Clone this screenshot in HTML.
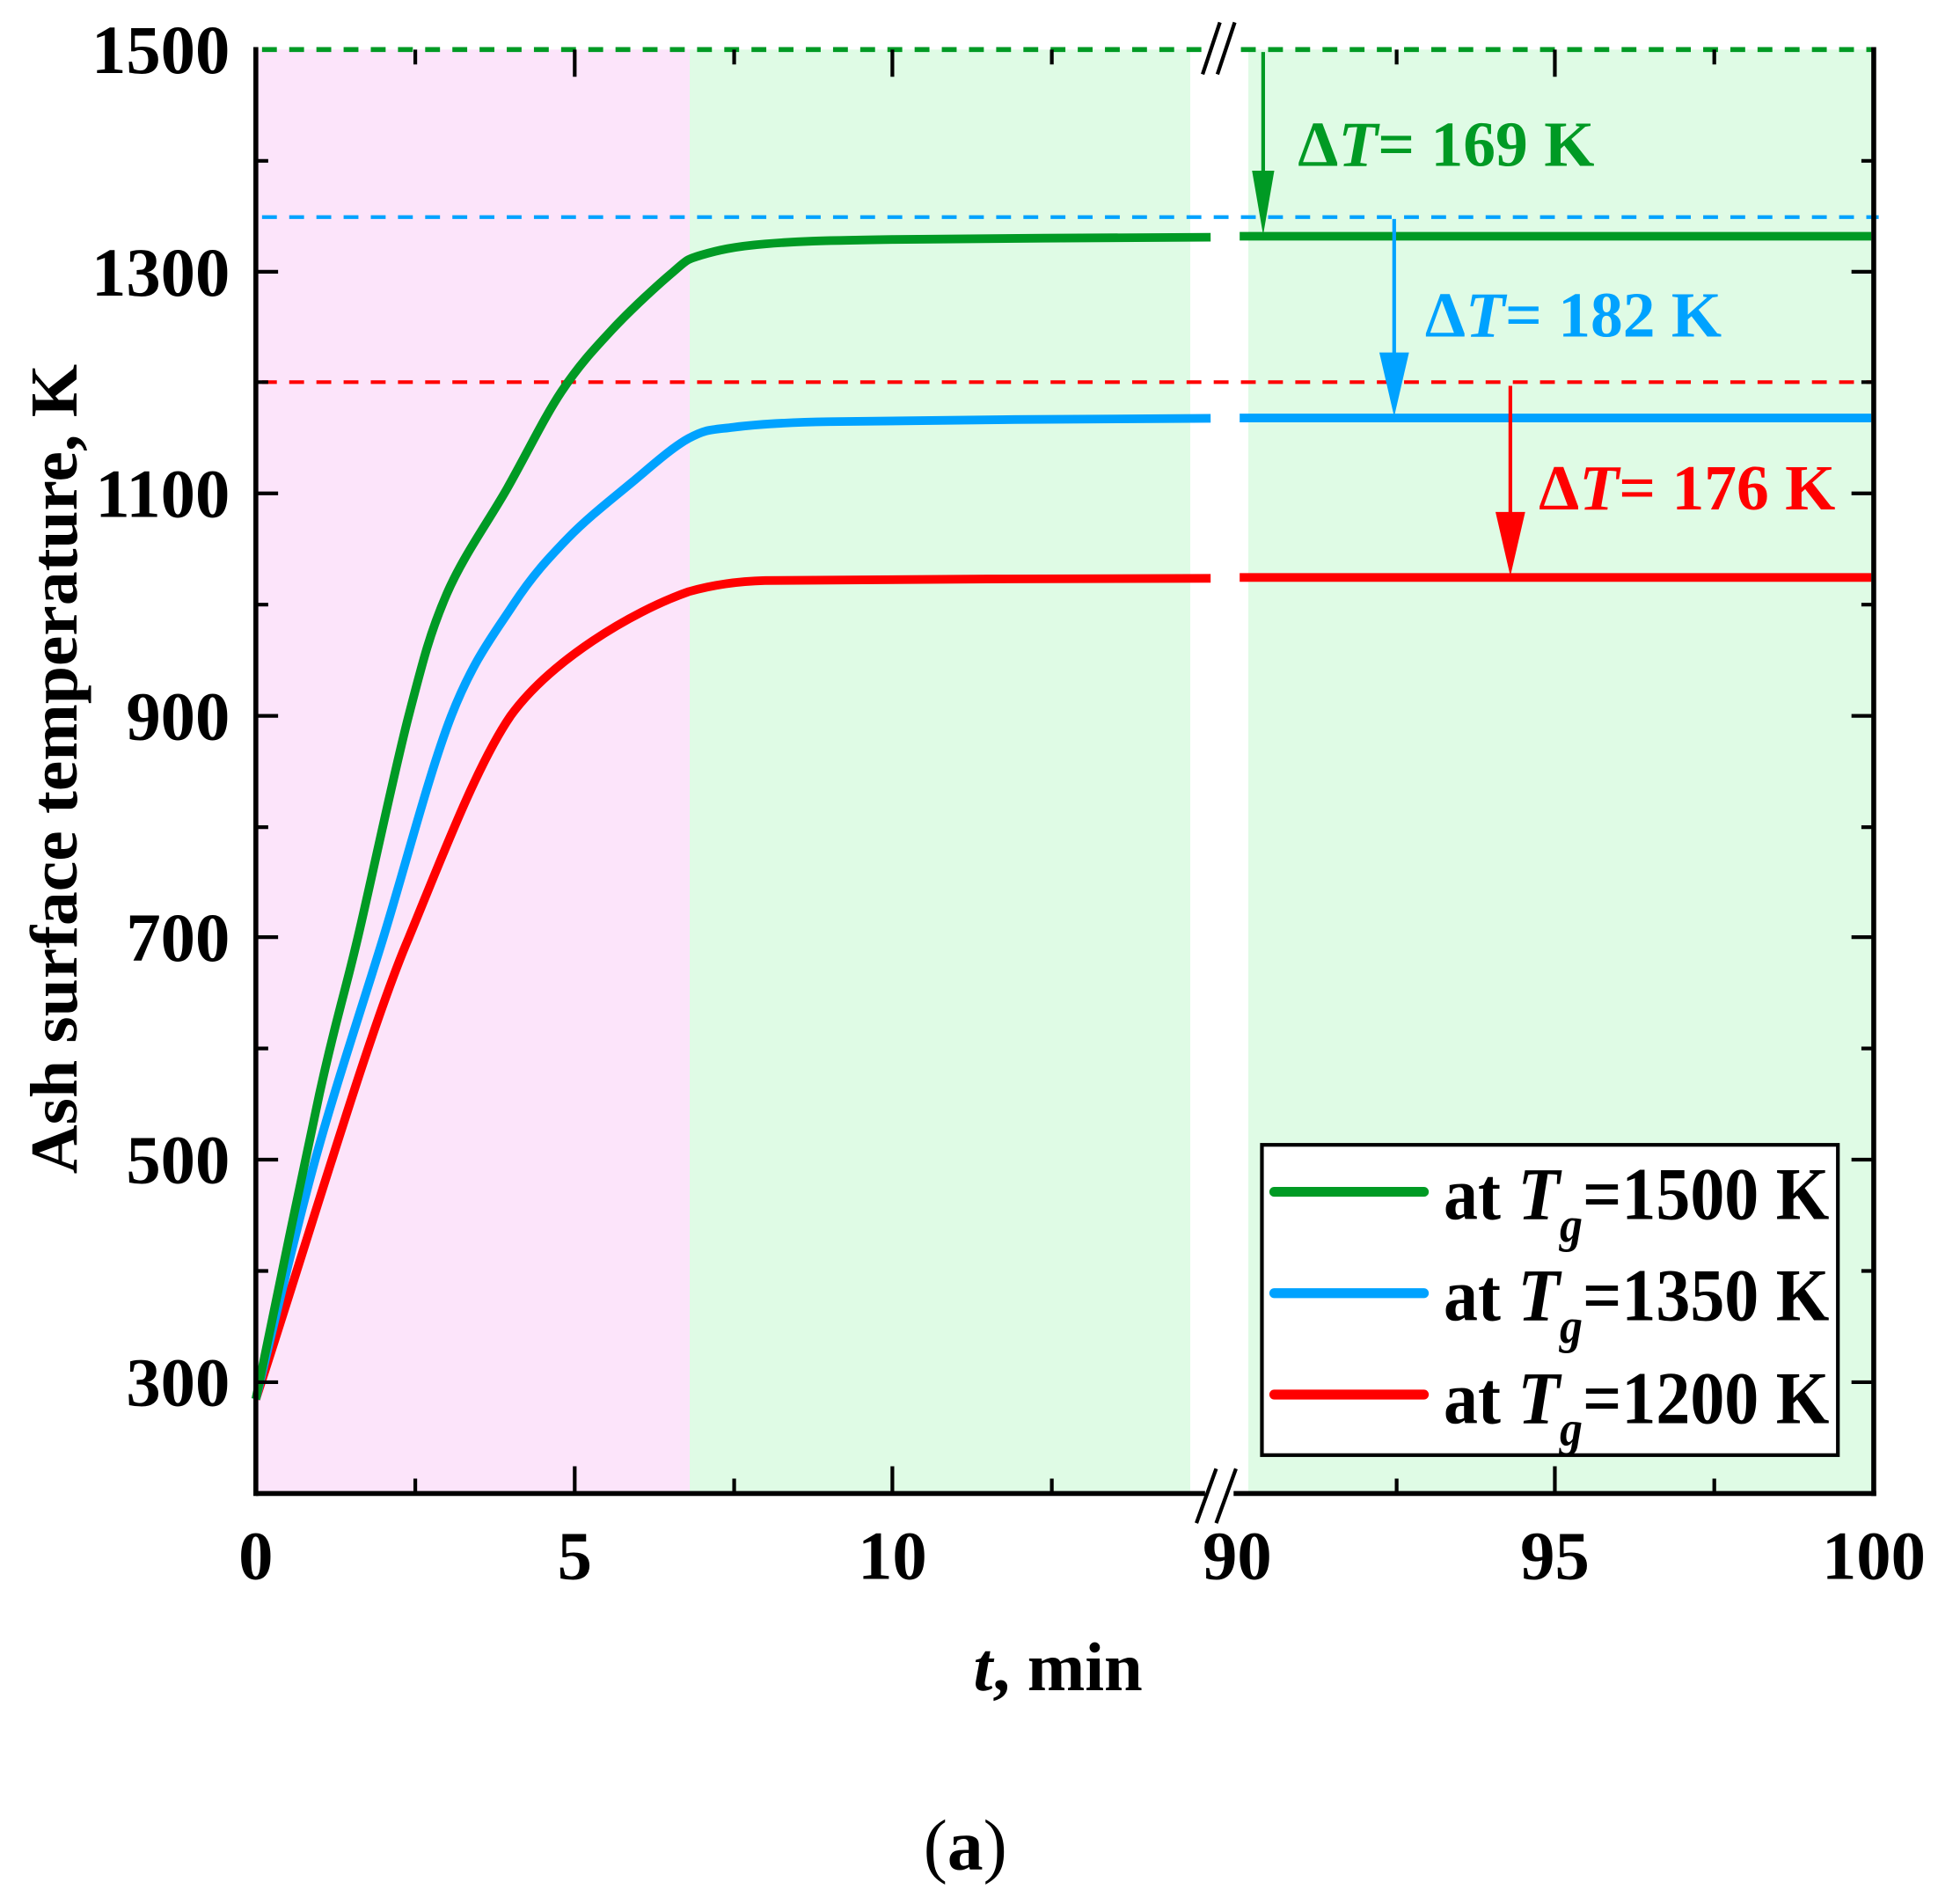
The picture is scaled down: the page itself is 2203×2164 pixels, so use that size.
<!DOCTYPE html>
<html><head><meta charset="utf-8"><style>html,body{margin:0;padding:0;background:#fff}svg{display:block}</style></head><body>
<svg width="2203" height="2164" viewBox="0 0 1568 1540" xmlns="http://www.w3.org/2000/svg" font-family="Liberation Serif, serif" font-weight="bold">
<rect x="207" y="40" width="351" height="1168" fill="#fce4fa"/>
<rect x="558" y="40" width="405" height="1168" fill="#dffbe5"/>
<rect x="1010" y="40" width="506" height="1168" fill="#dffbe5"/>
<line x1="212" y1="175.5" x2="1520" y2="175.5" stroke="#00a2ff" stroke-width="3" stroke-dasharray="12,10"/>
<line x1="212" y1="309" x2="1516" y2="309" stroke="#ff0000" stroke-width="3" stroke-dasharray="12,10"/>
<g fill="none" stroke-width="7" stroke-linejoin="round">
<path stroke="#ff0000" d="M207,1131.7 C250,1000 300,830 330.6,758.8 C355,700 385,620 413,579.1 C445,535 510,495 557.2,478.5 C580,472 600,470 619,469.5 C680,468.5 920,467.8 979.5,467.7 M1003,467 L1514,467"/>
<path stroke="#00a2ff" d="M207,1131.7 C215,1099.5 237.7,1000.7 254.9,938.5 C272.1,876.3 291.6,818.7 310,758.8 C328.4,698.9 347.6,624 365.1,579.1 C382.6,534.2 399.4,513.3 415.1,489.3 C430.8,465.3 443.4,451.8 459.4,435.3 C475.4,418.8 494.6,403.9 510.9,390.4 C527.2,376.9 543.5,362 557.2,354.5 C571,347 574.4,347.8 593.3,345.5 C612.2,343.2 640,341.5 670.5,341 C735,339.8 928,338.3 979.5,338.3 M1003,338 L1514,338"/>
<path stroke="#009a24" d="M207,1131.7 C215.6,1090.5 244.8,946.8 258.5,884.6 C272.2,822.4 277.4,809.7 289.4,758.8 C301.4,707.9 318.6,625.5 330.6,579.1 C342.6,532.7 348.2,511 361.5,480.3 C374.8,449.6 394.9,422.2 410.4,394.9 C425.9,367.6 440,338.1 454.2,316.7 C468.4,295.3 480.3,282.6 495.4,266.4 C510.5,250.2 532.8,229.7 544.8,219.7 C556.2,209.7 555.1,210 567.5,206.2 C579.9,202.6 593.2,199.3 619,197.2 C644.8,195.1 661.9,194.5 722,193.6 C782.1,192.7 936.6,192.1 979.5,191.8 M1003,191 L1514,191"/>
</g>
<line x1="212" y1="40" x2="1516" y2="40" stroke="#009a24" stroke-width="4" stroke-dasharray="12,10"/>
<g stroke="#000" stroke-width="4" fill="none">
<line x1="207" y1="38" x2="207" y2="1210"/>
<line x1="1516" y1="38" x2="1516" y2="1210"/>
<line x1="207" y1="1208" x2="975" y2="1208"/>
<line x1="998" y1="1208" x2="1518" y2="1208"/>
</g>
<g stroke="#000" stroke-width="3">
<path d="M465,1208v-22M722,1208v-22M1258,1208v-22M336,1208v-12M594,1208v-12M851,1208v-12M1130,1208v-12M1387,1208v-12"/>
<path d="M465,40v22M722,40v22M1258,40v22M336,40v12M594,40v12M851,40v12M1130,40v12M1387,40v12"/>
<path d="M207,219.7h18M207,399h18M207,579h18M207,758h18M207,938h18M207,1118h18M207,130h10M207,309h10M207,489h10M207,669h10M207,848h10M207,1028h10"/>
<path d="M1516,219.7h-18M1516,399h-18M1516,579h-18M1516,758h-18M1516,938h-18M1516,1118h-18M1516,130h-10M1516,309h-10M1516,489h-10M1516,669h-10M1516,848h-10M1516,1028h-10"/>
</g>
<rect x="978" y="1190" width="20" height="40" fill="#fff"/>
<rect x="978" y="30" width="20" height="20" fill="#fff"/>
<g stroke="#000" stroke-width="3"><path d="M968,1232L984,1188M984,1232L1000,1188M973,60L987,18M985,60L999,18"/></g>
<g stroke-width="3">
<line x1="1022" y1="42" x2="1022" y2="145" stroke="#009a24"/><polygon points="1013,138 1031,138 1022,190" fill="#009a24"/>
<line x1="1128" y1="177" x2="1128" y2="290" stroke="#00a2ff"/><polygon points="1116,285 1140,285 1128,337" fill="#00a2ff"/>
<line x1="1222" y1="312" x2="1222" y2="420" stroke="#ff0000"/><polygon points="1210,414 1234,414 1222,466" fill="#ff0000"/>
</g>
<g font-size="52">
<text x="1050" y="134" fill="#009a24" textLength="240" lengthAdjust="spacingAndGlyphs">Δ<tspan font-style="italic">T</tspan>= 169 K</text>
<text x="1153" y="272" fill="#00a2ff" textLength="240" lengthAdjust="spacingAndGlyphs">Δ<tspan font-style="italic">T</tspan>= 182 K</text>
<text x="1245" y="412" fill="#ff0000" textLength="240" lengthAdjust="spacingAndGlyphs">Δ<tspan font-style="italic">T</tspan>= 176 K</text>
</g>
<rect x="1021" y="926" width="466" height="251" fill="#fff" stroke="#000" stroke-width="3"/>
<g stroke-width="8" stroke-linecap="round">
<line x1="1031" y1="964" x2="1152" y2="964" stroke="#009a24"/>
<line x1="1031" y1="1046" x2="1152" y2="1046" stroke="#00a2ff"/>
<line x1="1031" y1="1128" x2="1152" y2="1128" stroke="#ff0000"/>
</g>
<g font-size="60" fill="#000">
<text x="1168" y="986" textLength="312" lengthAdjust="spacingAndGlyphs">at <tspan font-style="italic">T</tspan><tspan font-style="italic" font-size="40" dy="18">g</tspan><tspan dy="-18">=1500 K</tspan></text>
<text x="1168" y="1068" textLength="312" lengthAdjust="spacingAndGlyphs">at <tspan font-style="italic">T</tspan><tspan font-style="italic" font-size="40" dy="18">g</tspan><tspan dy="-18">=1350 K</tspan></text>
<text x="1168" y="1151" textLength="312" lengthAdjust="spacingAndGlyphs">at <tspan font-style="italic">T</tspan><tspan font-style="italic" font-size="40" dy="18">g</tspan><tspan dy="-18">=1200 K</tspan></text>
</g>
<g font-size="56" fill="#000" text-anchor="end">
<text x="186" y="59">1500</text><text x="186" y="239">1300</text><text x="186" y="418">1100</text>
<text x="186" y="598">900</text><text x="186" y="777">700</text><text x="186" y="957">500</text><text x="186" y="1137">300</text>
</g>
<g font-size="56" fill="#000" text-anchor="middle">
<text x="207" y="1277">0</text><text x="465" y="1277">5</text><text x="722" y="1277">10</text>
<text x="1001" y="1277">90</text><text x="1258" y="1277">95</text><text x="1516" y="1277">100</text>
</g>
<text x="856" y="1367" font-size="56" text-anchor="middle"><tspan font-style="italic">t</tspan>, min</text>
<text transform="translate(62,622) rotate(-90)" font-size="54" text-anchor="middle" textLength="655" lengthAdjust="spacingAndGlyphs">Ash surface temperature, K</text>
<text x="781" y="1512" font-size="58" font-weight="normal" text-anchor="middle">(<tspan font-weight="bold">a</tspan>)</text>
</svg>
</body></html>
